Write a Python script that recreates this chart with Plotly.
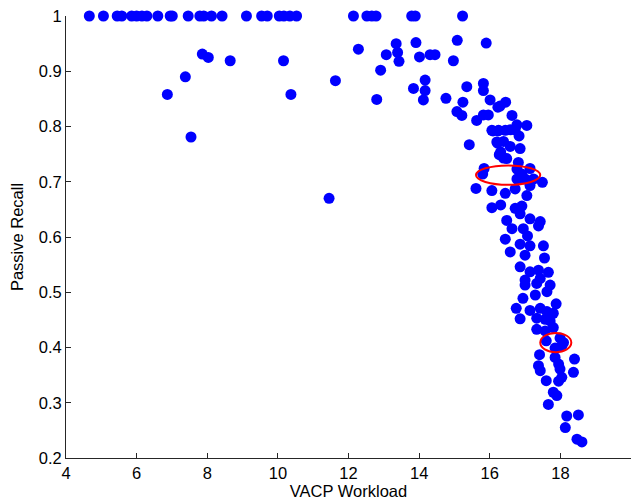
import plotly.graph_objects as go

x_top = [4.66, 5.06, 5.45, 5.58, 5.86, 6.00, 6.15, 6.29, 6.60, 6.95, 7.01, 7.46, 7.79, 7.90, 8.12, 8.42,
         9.11, 9.54, 9.70, 10.04, 10.17, 10.34, 10.53, 12.14, 12.52, 12.66, 12.78, 13.79, 13.89, 15.23]
y_top = [1.0] * len(x_top)

x_mid = [7.86, 8.03, 8.65, 10.16, 7.38, 6.87, 10.37, 7.54,
         12.28, 13.35, 13.39, 13.07, 13.43, 13.91, 14.01, 14.31, 14.45, 15.08, 14.97, 15.90,
         12.91, 11.63, 14.17, 13.84, 14.17, 14.12, 12.80, 14.76, 15.35, 15.24, 15.82, 15.82,
         16.01, 16.23, 15.07, 15.21, 15.63, 15.82, 15.96, 16.09, 16.23, 16.20, 15.42, 16.27,
         11.45]
y_mid = [0.931, 0.925, 0.919, 0.919, 0.890, 0.858, 0.858, 0.781,
         0.940, 0.950, 0.934, 0.930, 0.918, 0.952, 0.926, 0.930, 0.930, 0.956, 0.919, 0.951,
         0.902, 0.883, 0.884, 0.869, 0.865, 0.848, 0.849, 0.851, 0.872, 0.844, 0.878, 0.865,
         0.848, 0.835, 0.827, 0.820, 0.811, 0.821, 0.821, 0.792, 0.792, 0.772, 0.767, 0.749,
         0.670]

x_band = [16.29, 16.45, 16.63, 16.06, 16.25, 16.44, 16.58, 16.72, 16.77, 17.05, 16.83, 16.22, 16.39,
          16.58, 16.86, 16.31, 16.39, 16.48, 16.81, 15.84, 17.14, 16.77, 16.91, 15.80, 16.77, 17.00,
          17.24, 17.49, 15.61, 16.06, 16.44, 16.72, 17.14, 17.05, 16.06, 16.31, 16.72, 16.91, 16.86,
          16.48, 17.14, 17.43, 17.38, 16.63, 16.95, 17.07, 16.44, 16.86, 17.14, 17.52, 16.58, 17.00,
          17.55, 16.86, 17.14, 17.38, 17.66, 17.00, 17.43]
y_band = [0.837, 0.844, 0.820, 0.793, 0.793, 0.793, 0.794, 0.794, 0.803, 0.802, 0.783, 0.770, 0.773,
          0.764, 0.760, 0.754, 0.743, 0.742, 0.735, 0.724, 0.724, 0.723, 0.714, 0.714, 0.705, 0.705,
          0.705, 0.699, 0.688, 0.684, 0.679, 0.687, 0.693, 0.675, 0.653, 0.658, 0.652, 0.656, 0.642,
          0.630, 0.633, 0.628, 0.620, 0.615, 0.615, 0.602, 0.596, 0.587, 0.584, 0.584, 0.573, 0.567,
          0.562, 0.546, 0.537, 0.540, 0.536, 0.522, 0.525]

x_low = [17.00, 17.33, 17.71, 17.62, 17.29, 16.94, 16.75, 16.86, 17.14, 17.43, 17.62, 17.88, 17.80,
         17.33, 17.57, 17.71, 17.33, 17.57, 17.80, 17.60, 17.99, 18.09, 17.85, 18.04, 17.41, 17.85,
         17.95, 18.40, 17.38, 17.43, 17.99, 18.37, 17.60, 17.95, 18.04, 17.80, 17.90, 17.66, 18.18,
         18.51, 18.14, 18.47, 18.61]
y_low = [0.513, 0.516, 0.513, 0.501, 0.495, 0.489, 0.471, 0.452, 0.467, 0.471, 0.465, 0.479, 0.462,
         0.453, 0.451, 0.448, 0.433, 0.430, 0.436, 0.412, 0.417, 0.409, 0.399, 0.403, 0.387, 0.382,
         0.370, 0.379, 0.367, 0.358, 0.361, 0.355, 0.340, 0.339, 0.346, 0.319, 0.313, 0.297, 0.276,
         0.278, 0.255, 0.234, 0.229]

workload = x_top + x_mid + x_band + x_low
recall = y_top + y_mid + y_band + y_low

# highlighted regions (center x, center y, half-width, half-height)
ell_cx = [16.52, 17.87]
ell_cy = [0.712, 0.409]
ell_rx = [0.91, 0.44]
ell_ry = [0.0176, 0.0174]

x_ticks = [4, 6, 8, 10, 12, 14, 16, 18, 20]
y_ticks = [0.2, 0.3, 0.4, 0.5, 0.6, 0.7, 0.8, 0.9, 1]
y_tick_text = ["0.2", "0.3", "0.4", "0.5", "0.6", "0.7", "0.8", "0.9", "1"]

fig = go.Figure()
fig.add_trace(go.Scatter(
    x=workload, y=recall, mode="markers",
    marker=dict(color="#0000FF", size=11, line=dict(width=0)),
    cliponaxis=False, showlegend=False,
))

for cx, cy, rx, ry in zip(ell_cx, ell_cy, ell_rx, ell_ry):
    fig.add_shape(type="circle", xref="x", yref="y",
                  x0=cx - rx, x1=cx + rx, y0=cy - ry, y1=cy + ry,
                  line=dict(color="#FF0000", width=2), layer="above")

font = dict(family="Liberation Sans, Arial, sans-serif", size=16.5, color="#000000")
axis_common = dict(
    showgrid=False, zeroline=False, showline=True, linecolor="#262626", linewidth=1,
    ticks="inside", ticklen=5, tickcolor="#262626", tickfont=font, mirror=False,
)

fig.update_layout(
    width=638, height=503,
    margin=dict(l=66, r=7, t=12, b=45),
    paper_bgcolor="white", plot_bgcolor="white",
    font=font,
    xaxis=dict(range=[4, 20], tickvals=x_ticks, ticktext=[str(v) for v in x_ticks],
               title=dict(text="VACP Workload", font=font, standoff=3), **axis_common),
    yaxis=dict(range=[0.2, 1], tickvals=y_ticks, ticktext=y_tick_text,
               title=dict(text="Passive Recall", font=font, standoff=10), **axis_common),
)

fig.write_html("out.html")
